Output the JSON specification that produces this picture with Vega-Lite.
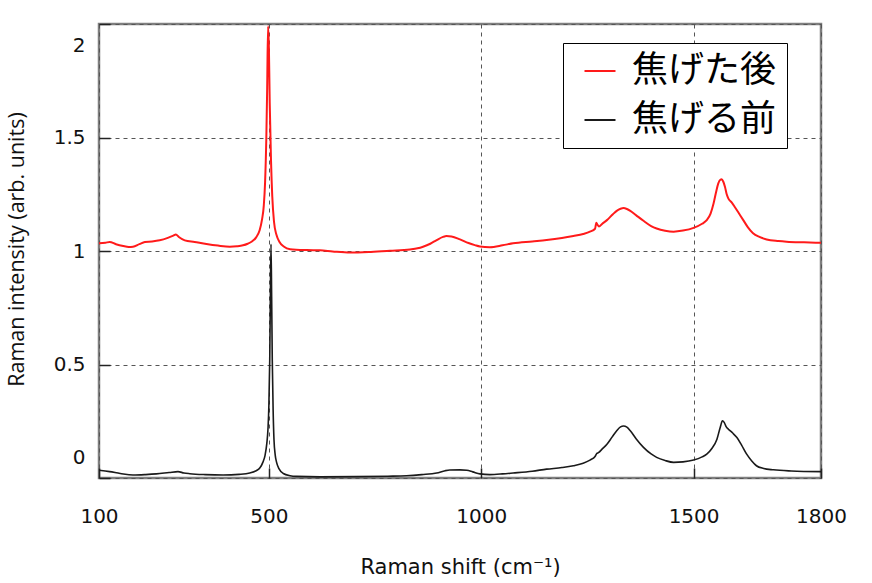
{
  "$schema": "https://vega.github.io/schema/vega-lite/v6.json",
  "width": 722,
  "height": 454,
  "autosize": {"type": "none"},
  "padding": {"left": 99, "top": 24, "right": 51, "bottom": 105},
  "background": "white",
  "datasets": {
    "before": [
      [100,0.034],[125,0.028],[150,0.02],[180,0.013],[210,0.015],[235,0.018],[265,0.024],[286,0.028],[300,0.022],[314,0.019],[350,0.015],[392,0.013],[430,0.016],[455,0.022],[470,0.032],[479,0.045],[486,0.07],[491,0.1],[495,0.15],[498,0.22],[500,0.32],[502,0.52],[503.5,0.8],[505,1.03],[506.5,0.8],[508,0.52],[510,0.3],[512,0.17],[515,0.1],[518,0.07],[524,0.04],[534,0.02],[550,0.01],[565,0.007],[620,0.005],[706,0.006],[780,0.008],[824,0.01],[860,0.015],[895,0.022],[915,0.032],[926,0.035],[950,0.036],[966,0.034],[980,0.027],[997,0.018],[1020,0.015],[1050,0.018],[1075,0.022],[1120,0.03],[1154,0.039],[1190,0.046],[1217,0.054],[1240,0.065],[1256,0.079],[1268,0.095],[1272,0.108],[1276,0.112],[1285,0.128],[1296,0.149],[1308,0.18],[1319,0.208],[1328,0.225],[1335,0.229],[1343,0.224],[1351,0.208],[1365,0.172],[1382,0.135],[1400,0.106],[1413,0.091],[1433,0.077],[1453,0.069],[1475,0.071],[1500,0.079],[1520,0.093],[1531,0.105],[1543,0.13],[1555,0.171],[1563,0.225],[1568,0.252],[1572,0.245],[1577,0.225],[1582,0.215],[1592,0.198],[1602,0.178],[1613,0.145],[1625,0.105],[1637,0.075],[1648,0.054],[1665,0.042],[1688,0.036],[1730,0.031],[1800,0.028]
    ],
    "after": [
      [100,1.034],[115,1.036],[125,1.04],[140,1.03],[157,1.022],[170,1.018],[180,1.019],[195,1.03],[208,1.04],[225,1.042],[243,1.047],[262,1.058],[275,1.068],[281,1.073],[288,1.062],[302,1.047],[325,1.04],[353,1.031],[380,1.024],[408,1.019],[425,1.021],[439,1.025],[450,1.032],[460,1.042],[470,1.06],[478,1.09],[484,1.14],[488,1.2],[491,1.3],[494,1.5],[496,1.72],[498,1.99],[500,1.9],[502,1.65],[505,1.4],[508,1.24],[512,1.13],[518,1.07],[525,1.04],[535,1.02],[550,1.008],[589,1.004],[620,1.003],[650,0.998],[691,0.993],[740,0.996],[785,1.001],[832,1.007],[850,1.012],[863,1.019],[880,1.032],[895,1.048],[910,1.062],[918,1.066],[930,1.064],[950,1.051],[970,1.035],[985,1.026],[997,1.02],[1020,1.017],[1050,1.025],[1075,1.034],[1120,1.042],[1154,1.048],[1190,1.057],[1217,1.066],[1240,1.075],[1256,1.085],[1268,1.098],[1271,1.125],[1273,1.118],[1277,1.108],[1285,1.12],[1296,1.136],[1310,1.162],[1319,1.177],[1328,1.186],[1335,1.189],[1343,1.185],[1351,1.177],[1365,1.157],[1382,1.133],[1400,1.11],[1413,1.099],[1433,1.089],[1453,1.085],[1475,1.09],[1500,1.102],[1520,1.12],[1531,1.136],[1540,1.165],[1547,1.209],[1553,1.26],[1558,1.297],[1563,1.314],[1566,1.316],[1570,1.305],[1574,1.282],[1578,1.25],[1582,1.231],[1590,1.213],[1597,1.194],[1607,1.165],[1617,1.136],[1628,1.104],[1640,1.078],[1655,1.062],[1672,1.051],[1700,1.044],[1719,1.041],[1760,1.038],[1800,1.036]
    ]
  },
  "layer": [
    {
      "data": {"name": "before"},
      "transform": [
        {"calculate": "datum[0]", "as": "shift"},
        {"calculate": "datum[1]", "as": "intensity"},
        {"calculate": "'焦げる前'", "as": "sample"}
      ],
      "mark": {"type": "line", "strokeWidth": 1.6, "interpolate": "monotone", "clip": true},
      "encoding": {
        "x": {"field": "shift", "type": "quantitative"},
        "y": {"field": "intensity", "type": "quantitative"},
        "color": {"field": "sample", "type": "nominal"}
      }
    },
    {
      "data": {"name": "after"},
      "transform": [
        {"calculate": "datum[0]", "as": "shift"},
        {"calculate": "datum[1]", "as": "intensity"},
        {"calculate": "'焦げた後'", "as": "sample"}
      ],
      "mark": {"type": "line", "strokeWidth": 2, "interpolate": "monotone", "clip": true},
      "encoding": {
        "x": {"field": "shift", "type": "quantitative"},
        "y": {"field": "intensity", "type": "quantitative"},
        "color": {"field": "sample", "type": "nominal"}
      }
    }
  ],
  "resolve": {"scale": {"color": "shared"}},
  "encoding": {
    "x": {
      "field": "shift", "type": "quantitative",
      "scale": {"domain": [100, 1800], "nice": false, "zero": false},
      "axis": {
        "values": [100, 500, 1000, 1500, 1800],
        "format": "d",
        "title": "Raman shift (cm⁻¹)",
        "titleX": 361, "titleY": 89, "titleBaseline": "middle", "titleAlign": "center",
        "labelPadding": 48, "labelBaseline": "middle", "labelFlush": false,
        "tickSize": -10
      }
    },
    "y": {
      "field": "intensity", "type": "quantitative",
      "scale": {"domain": [0, 2], "nice": false, "zero": false},
      "axis": {
        "values": [0, 0.5, 1, 1.5, 2],
        "labelExpr": "datum.value + ''",
        "title": "Raman intensity (arb. units)",
        "titleFont": "Open Sans", "titleFontSize": 21.5,
        "titleX": -82, "titleY": 225, "titleAngle": -90, "titleBaseline": "middle", "titleAlign": "center",
        "labelPadding": 25, "labelBaseline": "middle", "labelAlign": "right",
        "tickSize": -11,
        "labelOffset": {"condition": [{"test": "datum.value === 2", "value": 21}, {"test": "datum.value === 0", "value": -21}], "value": 0}
      }
    },
    "color": {
      "field": "sample", "type": "nominal",
      "scale": {"domain": ["焦げた後", "焦げる前"], "range": ["#ff1a1a", "#1a1a1a"]},
      "legend": {
        "title": null, "orient": "none", "legendX": 464, "legendY": 19,
        "symbolType": "stroke", "symbolSize": 961, "symbolStrokeWidth": 2,
        "labelFont": "Noto Sans CJK JP", "labelFontSize": 36, "labelColor": "black",
        "labelOffset": 14, "rowPadding": 13, "padding": 10, "symbolOffset": 9,
        "strokeColor": "black", "fillColor": "white", "labelLimit": 400
      }
    }
  },
  "config": {
    "view": {"stroke": "#7f7f7f", "strokeWidth": 2.5},
    "axis": {
      "domain": false,
      "grid": true, "gridDash": [4, 4], "gridColor": "#555555", "gridWidth": 1, "gridOpacity": 1,
      "ticks": true, "tickColor": "#222222", "tickWidth": 1.5,
      "labelFont": "DejaVu Sans", "labelFontSize": 20, "labelColor": "#111111",
      "titleFont": "DejaVu Sans", "titleFontSize": 21, "titleFontWeight": "normal", "titleColor": "#111111"
    }
  }
}
